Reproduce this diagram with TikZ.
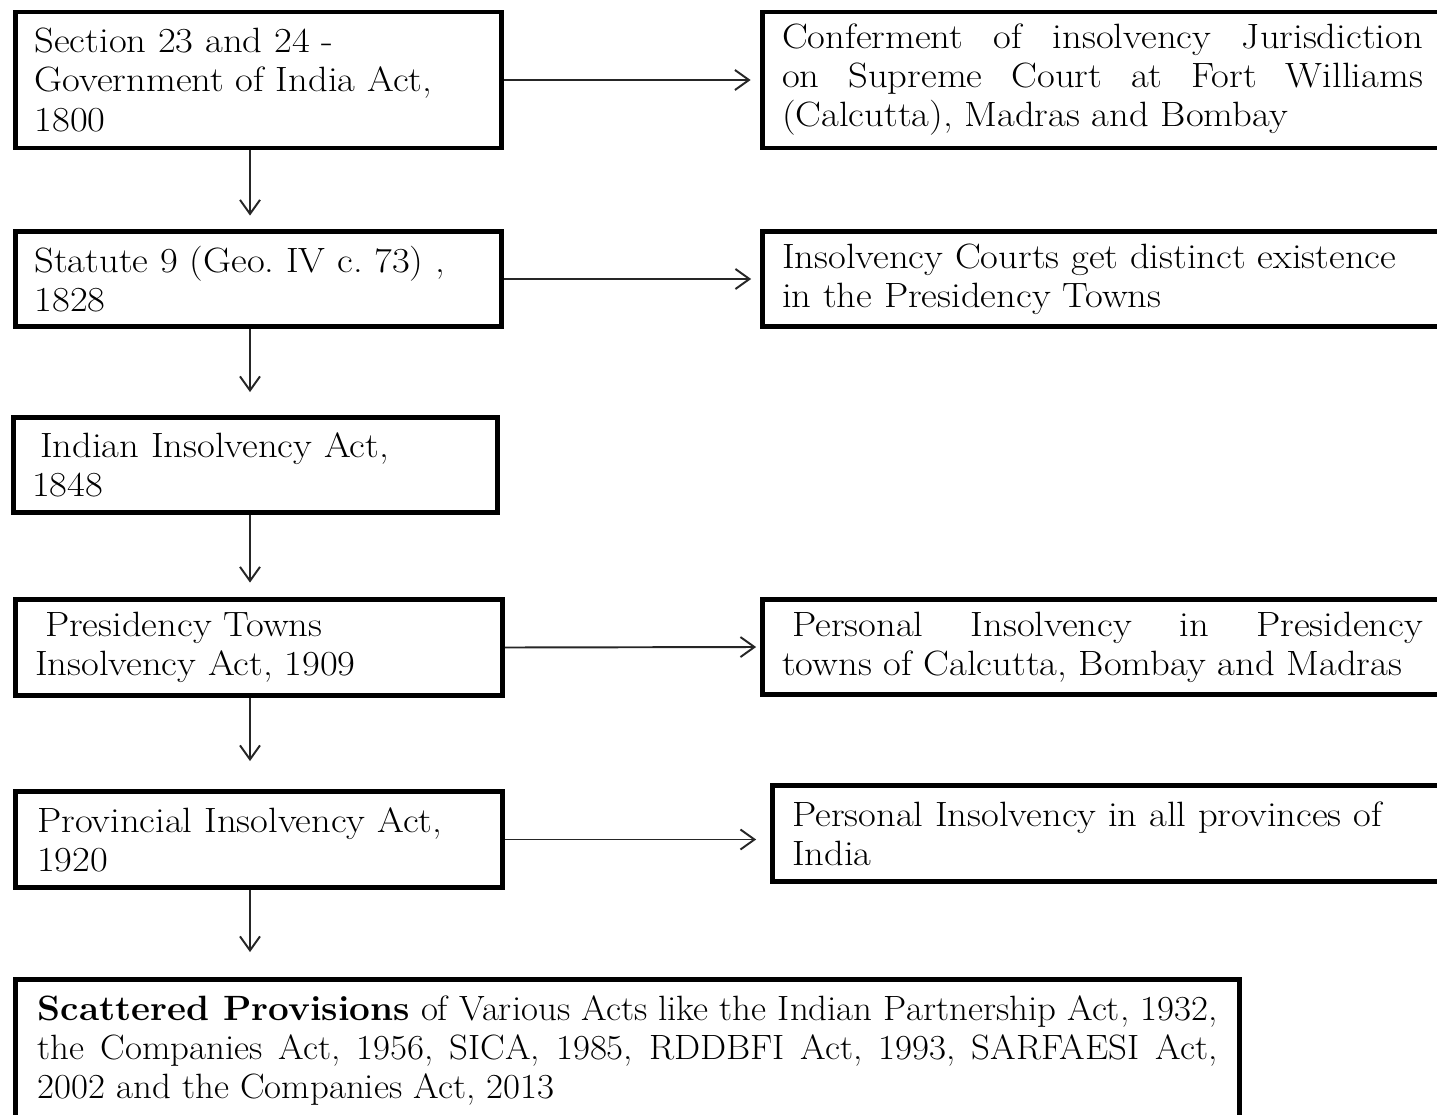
\documentclass[tikz,border=0pt]{standalone}
\usepackage{fontspec}
\setmainfont{Latin Modern Roman}
\newfontfamily\widefont{Latin Modern Roman}[FakeStretch=1.1]
\newfontfamily\midfont{Latin Modern Roman}[FakeStretch=1.05]
\usetikzlibrary{arrows.meta,positioning}
\frenchspacing
\tikzset{
  >={Straight Barb[length=2.8mm,width=4.0mm]},
  every node/.style={font=\widefont\fontsize{20}{22.2}\selectfont},
  actbox/.style={draw=black, line width=2.8pt, inner xsep=0.39cm, inner ysep=0pt,
                 text width=8.96cm, minimum width=9.72cm, minimum height=1.9cm, align=left},
  effbox/.style={actbox, text width=12.82cm, minimum width=13.6cm, align=justify},
  flow/.style={->, line width=1.1pt, draw=black!85},
}

\begin{document}
\begin{tikzpicture}[x=0.02cm, y=-0.02cm]
  \useasboundingbox (0,0) rectangle (1437,1115);
  \clip (0,0) rectangle (1437,1115);
  \fill[white] (0,0) rectangle (1437,1115);

  % left column: the acts
  \node[actbox, minimum height=2.72cm] (sec) at (258.5,80)
    {Section 23 and 24 -\\ Government of India Act,\\ 1800};
  \node[actbox] (stat) at (258.5,279)
    {Statute 9 (Geo. IV c. 73) ,\\ 1828};
  \node[actbox, inner xsep=0.37cm, text width=8.94cm, minimum width=9.68cm] (indian) at (255.5,465)
    {\hspace{0.16cm}Indian Insolvency Act,\\ 1848};
  \node[actbox, minimum width=9.74cm, minimum height=1.92cm] (pres) at (259,647.5)
    {\hspace{0.2cm}Presidency Towns\\ Insolvency Act, 1909};
  \node[actbox, inner xsep=0.43cm, text width=8.88cm, minimum width=9.74cm, minimum height=1.92cm] (prov) at (259,839.5)
    {Provincial Insolvency Act,\\ 1920};

  % bottom box
  \node[actbox, font=\midfont\fontsize{20}{22.2}\selectfont, inner xsep=0.44cm, text width=23.6cm,
        minimum width=24.48cm, minimum height=2.85cm, align=justify] (scat) at (627.5,1050.75)
    {\textbf{Scattered Provisions} of Various Acts like the Indian Partnership Act, 1932,\linebreak
     the Companies Act, 1956, SICA, 1985, RDDBFI Act, 1993, SARFAESI Act,\linebreak
     2002 and the Companies Act, 2013};

  % right column: the effects
  \node[effbox, minimum height=2.72cm] (conf) at (1102.5,80)
    {Conferment of insolvency Jurisdiction\linebreak
     on Supreme Court at Fort Williams\linebreak
     (Calcutta), Madras and Bombay};
  \node[effbox, align=left] (courts) at (1102.5,279)
    {Insolvency Courts get distinct existence\\ in the Presidency Towns};
  \node[effbox] (pers) at (1102.5,647)
    {\hspace{0.2cm}Personal Insolvency in Presidency\linebreak
     towns of Calcutta, Bombay and Madras};
  \node[effbox, align=left, minimum height=1.92cm] (allprov) at (1112.5,833.5)
    {Personal Insolvency in all provinces of\\ India};

  % downward arrows
  \coordinate (spine) at (250,0);
  \draw[flow, shorten >=0.27cm] (sec.south -| spine) -- (stat.north -| spine);
  \draw[flow, shorten >=0.46cm] (stat.south -| spine) -- (indian.north -| spine);
  \draw[flow, shorten >=0.29cm] (indian.south -| spine) -- (pres.north -| spine);
  \draw[flow, shorten >=0.56cm] (pres.south -| spine) -- (prov.north -| spine);
  \draw[flow, shorten >=0.5cm] (prov.south -| spine) -- (scat.north -| spine);

  % sideways arrows
  \draw[flow, shorten >=0.19cm] (sec.east) -- (conf.west);
  \draw[flow, shorten >=0.18cm] (stat.east) -- (courts.west);
  \draw[flow, shorten >=0.08cm] (pres.east) -- (pers.west);
  \draw[flow, shorten >=0.28cm] (prov.east) -- (prov.east -| allprov.west);
\end{tikzpicture}
\end{document}
